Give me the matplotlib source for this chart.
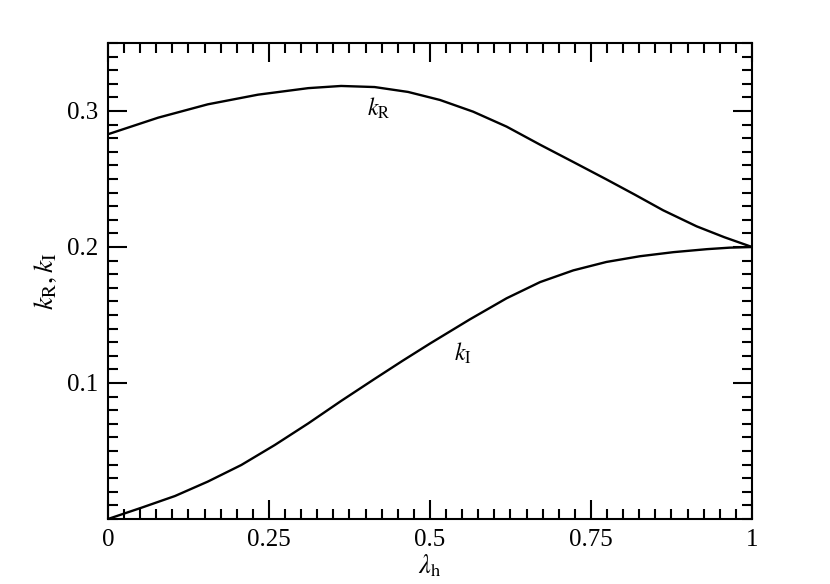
import numpy as np
import matplotlib
matplotlib.use('Agg')
import matplotlib.pyplot as plt
from matplotlib.ticker import MultipleLocator, FixedLocator

plt.rcParams['font.family'] = ['Liberation Serif', 'DejaVu Serif']
plt.rcParams['mathtext.fontset'] = 'stix'

# values
lam_R = [0.0, 0.078, 0.155, 0.233, 0.311, 0.362, 0.414, 0.466, 0.5155, 0.567,
         0.619, 0.671, 0.7225, 0.774, 0.818, 0.862, 0.914, 0.957, 1.0]
k_R = [0.2829, 0.2951, 0.3049, 0.3120, 0.3168, 0.3184, 0.3176, 0.3140, 0.3081, 0.2995,
       0.2885, 0.2752, 0.2625, 0.2497, 0.2385, 0.2270, 0.2152, 0.2072, 0.2000]

lam_I = [0.0, 0.052, 0.104, 0.155, 0.207, 0.259, 0.311, 0.362, 0.414, 0.457, 0.5,
         0.562, 0.619, 0.671, 0.7225, 0.774, 0.826, 0.878, 0.93, 0.965, 1.0]
k_I = [0.0, 0.0083, 0.0169, 0.0275, 0.0397, 0.0544, 0.0703, 0.0868, 0.1030, 0.1162, 0.1290,
       0.1468, 0.1623, 0.1742, 0.1828, 0.1890, 0.1932, 0.1962, 0.1984, 0.1995, 0.2000]

x_ticks = [0, 0.25, 0.5, 0.75, 1]
x_ticklabels = ['0', '0.25', '0.5', '0.75', '1']
y_ticks = [0.1, 0.2, 0.3]
y_ticklabels = ['0.1', '0.2', '0.3']

fig = plt.figure(figsize=(8.3, 5.84), dpi=100)
ax = fig.add_axes([0.1301, 0.1113, 0.7759, 0.8151])

ax.plot(lam_R, k_R, c='k', lw=1.7, solid_joinstyle='round')
ax.plot(lam_I, k_I, c='k', lw=1.7, solid_joinstyle='round')

ax.text(0.42, 0.302, r'$k_\mathrm{R}$', fontsize=17, ha='center', va='center')
ax.text(0.551, 0.122, r'$k_\mathrm{I}$', fontsize=17, ha='center', va='center')

ax.set_xlim(0, 1)
ax.set_ylim(0, 0.35)
ax.xaxis.set_major_locator(FixedLocator(x_ticks))
ax.set_xticklabels(x_ticklabels)
ax.yaxis.set_major_locator(FixedLocator(y_ticks))
ax.set_yticklabels(y_ticklabels)
ax.xaxis.set_minor_locator(MultipleLocator(0.025))
ax.yaxis.set_minor_locator(MultipleLocator(0.01))

ax.tick_params(which='both', direction='in', top=True, right=True, width=1.5, labelsize=18)
ax.tick_params(which='major', length=13.5, pad=7)
ax.tick_params(which='minor', length=7)
for s in ax.spines.values():
    s.set_linewidth(1.5)

ax.set_xlabel(r'$\lambda_\mathrm{h}$', fontsize=19, labelpad=1)
ax.set_ylabel(r'$k_\mathrm{R}, k_\mathrm{I}$', fontsize=20, labelpad=6)

fig.savefig('out.png', dpi=100)
